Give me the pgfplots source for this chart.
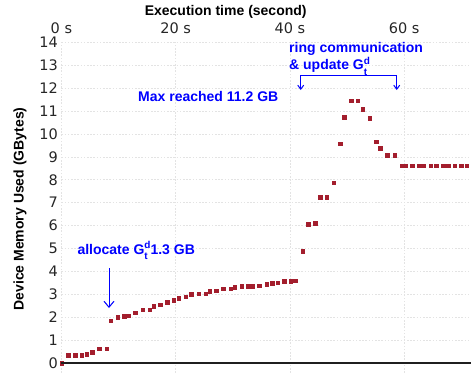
\documentclass[border=0pt]{standalone}
\usepackage{pgfplots}
\pgfplotsset{compat=1.18}
\usepackage{fontspec}
\setmainfont{Liberation Sans}
\newfontfamily\dejavu{DejaVu Sans}
\usetikzlibrary{arrows.meta}
\definecolor{ptred}{RGB}{163,30,45}
\definecolor{annblue}{RGB}{0,0,255}
\newcommand{\Gtd}{G\rlap{\raisebox{-5pt}{\fontsize{10}{10}\selectfont t}}\raisebox{5.5pt}{\fontsize{10}{10}\selectfont d}}
\begin{document}
\begin{tikzpicture}
\begin{axis}[
  at={(0,0)}, anchor=south west,
  scale only axis, width=409.6pt, height=330.4pt,
  xmin=0, xmax=71.7, ymin=-0.43, ymax=14,
  axis line style={draw=none},
  tick style={draw=none},
  xtick={0,20,40,60},
  xticklabels={0 s,20 s,40 s,60 s},
  xticklabel pos=upper,
  ytick={0,1,...,14},
  grid=major,
  grid style={gray!22, line width=0.6pt, dash pattern=on 1.6pt off 1.6pt},
  clip=false,
  /pgf/number format/assume math mode=true,
  ticklabel style={font=\dejavu\fontsize{14.5}{17}\selectfont, text=black!85},
  xticklabel style={yshift=5pt},
]
\addplot[draw=none, mark=square*, mark size=1.7pt, mark options={fill=ptred, draw=ptred, line width=0.2pt}] coordinates {
(0,0)
(1.2,0.34)(2.4,0.34)(3.5,0.34)(4.4,0.38)(5.4,0.47)(6.6,0.64)(7.9,0.64)
(8.6,1.86)(9.8,2.0)(11.0,2.04)(11.7,2.08)(12.9,2.21)(14.2,2.34)(15.4,2.34)(16.1,2.48)(17.3,2.56)(18.5,2.65)(19.6,2.74)
(20.5,2.83)(21.7,2.91)(22.7,3.0)(24.0,3.04)(25.2,3.04)(25.9,3.13)(27.1,3.17)(28.3,3.26)(29.6,3.26)(30.3,3.31)(31.5,3.35)(32.7,3.35)(33.4,3.35)(34.6,3.39)(35.9,3.44)(36.9,3.48)(37.8,3.52)(39.0,3.57)(40.1,3.57)(40.9,3.61)
(42.2,4.88)(43.2,6.06)(44.4,6.1)(45.3,7.24)(46.4,7.24)(47.6,7.89)(48.8,9.59)(49.5,10.73)(50.7,11.47)(51.9,11.47)(52.7,11.08)(53.9,10.69)(55.1,9.68)(55.8,9.38)(57.0,9.07)(58.3,9.07)
(59.5,8.63)(60.2,8.63)(61.4,8.63)(62.5,8.63)(63.3,8.63)(64.6,8.63)(65.6,8.63)(66.8,8.63)(67.7,8.63)(68.8,8.63)(70.0,8.63)(70.9,8.63)
};
\end{axis}
% baseline at y=0
\draw[black!88, line width=1.2pt] (0pt,9.8pt) -- (409.6pt,9.8pt);
% titles
\node[font=\bfseries\fontsize{14}{16}\selectfont, inner sep=0pt] at (164.3pt,361.1pt) {Execution time (second)};
\node[font=\bfseries\fontsize{14}{16}\selectfont, inner sep=0pt, rotate=90] at (-41.4pt,163.8pt) {Device Memory Used (GBytes)};
% annotations
\begin{scope}[font=\bfseries\fontsize{14}{16}\selectfont, text=annblue]
\node[anchor=base west, inner sep=0pt] at (15.9pt,118.8pt) {allocate \Gtd1.3 GB};
\node[anchor=base west, inner sep=0pt] at (76.6pt,271.5pt) {Max reached 11.2 GB};
\node[anchor=base west, inner sep=0pt] at (227.6pt,320pt) {ring communication};
\node[anchor=base west, inner sep=0pt] at (227.6pt,302.8pt) {\& update \Gtd};
\end{scope}
\draw[annblue, line width=1pt, -{Straight Barb[length=6pt,width=10pt]}] (47.6pt,104.8pt) -- (47.6pt,64.8pt);
\draw[annblue, line width=1pt, {Straight Barb[length=4pt,width=6pt]}-{Straight Barb[length=4pt,width=6pt]}] (239.3pt,282.8pt) -- (239.3pt,297.1pt) -- (335.3pt,297.1pt) -- (335.3pt,282.8pt);
\pgfresetboundingbox
\useasboundingbox (-61.4pt,-0.2pt) rectangle (409.6pt,372.8pt);
\end{tikzpicture}
\end{document}
